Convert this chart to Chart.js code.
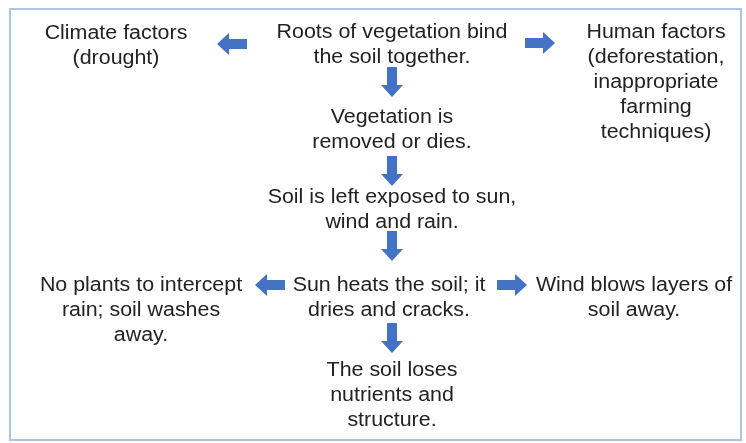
<!DOCTYPE html>
<html>
<head>
<meta charset="utf-8">
<script src="https://cdn.jsdelivr.net/npm/chart.js@4"></script>
<style>
  html, body { margin: 0; padding: 0; background: #fff; }
  #wrap { width: 746px; height: 443px; }
</style>
</head>
<body>
<div id="wrap"><canvas id="myChart" width="746" height="443"></canvas></div>
<script>
// flowchart boxes: text lines, centre x, y of first line
const nodeLabels = [
  ["Climate factors", "(drought)"],
  ["Roots of vegetation bind", "the soil together."],
  ["Human factors", "(deforestation,", "inappropriate", "farming", "techniques)"],
  ["Vegetation is", "removed or dies."],
  ["Soil is left exposed to sun,", "wind and rain."],
  ["No plants to intercept", "rain; soil washes", "away."],
  ["Sun heats the soil; it", "dries and cracks."],
  ["Wind blows layers of", "soil away."],
  ["The soil loses", "nutrients and", "structure."]
];
const nodeX = [116, 392, 656, 392, 392, 141, 389, 634, 392];
const nodeY = [33, 32, 32, 117, 197, 285, 285, 285, 370];

// arrows: centre point and direction (degrees, 0 = right)
const arrowX = [232, 540, 392, 392, 392, 270, 512, 392];
const arrowY = [44, 43, 82, 171, 246, 285, 285, 338];
const arrowDir = [180, 0, 90, 90, 90, 180, 0, 90];

const BLUE = "#4472c4";
const LINE_H = 25;

const makeArrow = () => {
  const c = document.createElement("canvas");
  c.width = 30;
  c.height = 22;
  const g = c.getContext("2d");
  g.fillStyle = BLUE;
  g.beginPath();
  g.moveTo(0, 6);
  g.lineTo(18, 6);
  g.lineTo(18, 0);
  g.lineTo(30, 11);
  g.lineTo(18, 22);
  g.lineTo(18, 16);
  g.lineTo(0, 16);
  g.closePath();
  g.fill();
  return c;
};
const arrowImg = makeArrow();

const frame = {
  id: "frame",
  beforeDraw(chart) {
    const ctx = chart.ctx;
    ctx.save();
    ctx.fillStyle = "#fff";
    ctx.fillRect(0, 0, chart.width, chart.height);
    ctx.strokeStyle = "#a9c5e6";
    ctx.lineWidth = 2;
    ctx.strokeRect(10, 9, 731, 431);
    ctx.restore();
  }
};

const nodeText = {
  id: "nodeText",
  afterDatasetsDraw(chart) {
    const ctx = chart.ctx;
    const xs = chart.scales.x;
    const ys = chart.scales.y;
    ctx.save();
    ctx.fillStyle = "#222";
    ctx.font = "20px 'Liberation Sans', Arial, sans-serif";
    ctx.textAlign = "center";
    ctx.textBaseline = "middle";
    nodeLabels.forEach((lines, i) => {
      const px = xs.getPixelForValue(nodeX[i]);
      lines.forEach((line, k) => {
        const py = ys.getPixelForValue(nodeY[i] + k * LINE_H);
        ctx.save();
        ctx.translate(px, py);
        ctx.scale(1.07, 1);
        ctx.fillText(line, 0, 0);
        ctx.restore();
      });
    });
    ctx.restore();
  }
};

const ctx = document.getElementById("myChart").getContext("2d");
new Chart(ctx, {
  type: "scatter",
  data: {
    datasets: [
      {
        label: "arrows",
        data: arrowX.map((x, i) => ({ x, y: arrowY[i] })),
        pointStyle: arrowImg,
        rotation: arrowDir,
        pointRadius: 15
      },
      {
        label: "boxes",
        data: nodeX.map((x, i) => ({ x, y: nodeY[i] })),
        pointRadius: 0
      }
    ]
  },
  options: {
    responsive: false,
    animation: false,
    devicePixelRatio: 1,
    events: [],
    layout: { padding: 0, autoPadding: false },
    plugins: {
      legend: { display: false },
      tooltip: { enabled: false }
    },
    scales: {
      x: { type: "linear", min: 0, max: 746, display: false },
      y: { type: "linear", min: 0, max: 443, reverse: true, display: false }
    }
  },
  plugins: [frame, nodeText]
});
</script>
</body>
</html>
